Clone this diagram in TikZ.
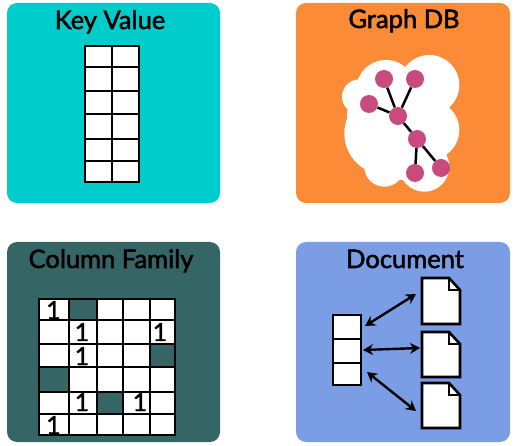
\documentclass[tikz,border=0pt]{standalone}
\usepackage{fontspec}
\setmainfont[FakeBold=2]{Lato}
\newfontfamily\digitfont[FakeBold=1.6]{Lato}
\definecolor{kvc}{HTML}{00CCCC}
\definecolor{gdc}{HTML}{FB8B37}
\definecolor{cfc}{HTML}{356565}
\definecolor{dcc}{HTML}{7A9DE6}
\definecolor{pinkc}{HTML}{C94A7C}
\usetikzlibrary{arrows.meta}
\tikzset{
  panel/.style={rounded corners=10pt,draw=none},
  paneltitle/.style={anchor=base,font=\fontsize{25.5}{26}\selectfont,text=black,inner sep=0pt},
  cell/.style={draw=black,line width=2.8pt,fill=white},
  gridline/.style={draw=black,line width=2.6pt},
  gnode/.style={circle,fill=pinkc,minimum size=18pt,inner sep=0pt},
  gedge/.style={draw=black,line width=2.5pt},
  numone/.style={font=\digitfont\fontsize{25}{25}\selectfont,anchor=base,inner sep=0pt,text=black},
  docpage/.style={draw=black,line width=2.6pt,fill=white,line join=miter},
  dblarrow/.style={draw=black,line width=2.4pt,{Stealth[length=10pt,width=11pt]}-{Stealth[length=10pt,width=11pt]}},
}
\begin{document}
\begin{tikzpicture}[x=1pt,y=-1pt]
\useasboundingbox (0,0) rectangle (514,446);
% panels
\fill[panel,kvc] (7,3) rectangle (220,203);
\fill[panel,gdc] (296,3) rectangle (510,203);
\fill[panel,cfc] (7,242) rectangle (220,442);
\fill[panel,dcc] (296,242) rectangle (510,442);
\node[paneltitle] (tkv) at (110,29) {Key Value};
\node[paneltitle] (tgd) at (404,28) {Graph DB};
\node[paneltitle] (tcf) at (111,268) {Column Family};
\node[paneltitle] (tdc) at (405,268) {Document};
% key value grid
\draw[cell] (85,46) rectangle (139,182);
\foreach \yy in {67,91,114,139,161} \draw[gridline] (85,\yy) -- (139,\yy);
\draw[gridline] (112,46) -- (112,182);
% graph cloud
\fill[white] (429.3,85) circle (30) (386,90) circle (30) (359.3,96.7) circle (17.3)
  (386,133.3) circle (41.7) (372,115) circle (25) (429.3,130) circle (30) (424.3,166.7) circle (25)
  (384.3,166.7) circle (20) (400,150) circle (30);
\node[gnode] (g1) at (384,79) {};
\node[gnode] (g2) at (415,79) {};
\node[gnode] (g3) at (369,104) {};
\node[gnode] (g4) at (398,116) {};
\node[gnode] (g5) at (417,139) {};
\node[gnode] (g6) at (415,173) {};
\node[gnode] (g7) at (441,168) {};
\draw[gedge] (g1) -- (g4);
\draw[gedge] (g2) -- (g4);
\draw[gedge] (g3) -- (g4);
\draw[gedge] (g4) -- (g5);
\draw[gedge] (g5) -- (g6);
\draw[gedge] (g5) -- (g7);
% column family grid
\draw[cell] (39,299) rectangle (175,435);
\fill[cfc] (69,299) rectangle (97,320);
\fill[cfc] (150,344) rectangle (175,367);
\fill[cfc] (39,367) rectangle (69,392);
\fill[cfc] (97,392) rectangle (123,414);
\foreach \yy in {320,344,367,392,414} \draw[gridline] (39,\yy) -- (175,\yy);
\foreach \xx in {69,97,123,150} \draw[gridline] (\xx,299) -- (\xx,435);
\draw[cell,fill=none] (39,299) rectangle (175,435);
\node[numone] (n1) at (53.5,319) {1};
\node[numone] (n2) at (82,341) {1};
\node[numone] (n3) at (160,341) {1};
\node[numone] (n4) at (82,365) {1};
\node[numone] (n5) at (82,411) {1};
\node[numone] (n6) at (140,411) {1};
\node[numone] (n7) at (53.5,434) {1};
% document list
\draw[cell] (333,315) rectangle (361,385);
\draw[gridline] (333,339) -- (361,339);
\draw[gridline] (333,363) -- (361,363);
\coordinate (l1) at (365,326);
\coordinate (l2) at (363,350);
\coordinate (l3) at (367,372);
\coordinate (d1) at (416,294);
\coordinate (d2) at (420,348);
\coordinate (d3) at (416,411);
% pages
\foreach \top/\bot in {278/324,332/377,383/428}{
  \draw[docpage] (422,\top) -- (449,\top) -- (460,{\top+12}) -- (460,\bot) -- (422,\bot) -- cycle;
  \draw[draw=black,line width=2.2pt] (449,\top) -- (449,{\top+12}) -- (460,{\top+12});
}
\draw[dblarrow] (l1) -- (d1);
\draw[dblarrow] (l2) -- (d2);
\draw[dblarrow] (l3) -- (d3);
\end{tikzpicture}
\end{document}
